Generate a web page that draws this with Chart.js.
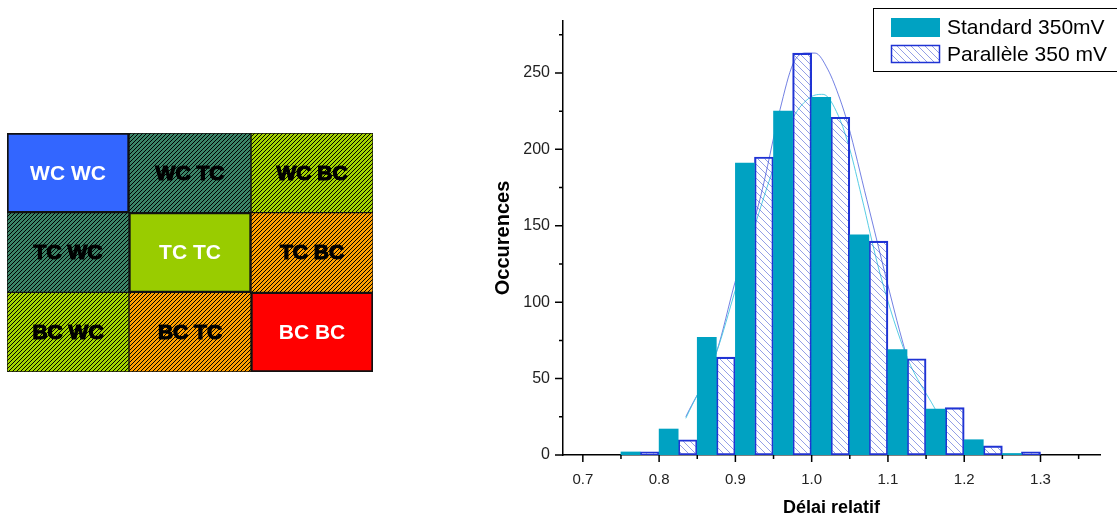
<!DOCTYPE html>
<html lang="fr">
<head>
<meta charset="utf-8">
<title>Occurences – délai relatif</title>
<script src="https://cdn.jsdelivr.net/npm/chart.js@4.4.1/dist/chart.umd.min.js"></script>
<style>
  html, body { margin: 0; padding: 0; background: #fff; }
  body { width: 1117px; height: 520px; position: relative; overflow: hidden; }
  #grid  { position: absolute; left: 7px; top: 133px; }
  #histo { position: absolute; left: 480px; top: 0; }
</style>
</head>
<body>
<canvas id="grid" width="366" height="239"></canvas>
<canvas id="histo" width="637" height="520"></canvas>
<script>
// --- Matrice des combinaisons (lignes x colonnes)
const gridRows = ['WC', 'TC', 'BC'];
const gridCols = ['WC', 'TC', 'BC'];

// --- Histogramme : classes de 0.05, deux séries côte à côte
const binCenters      = [0.775, 0.825, 0.875, 0.925, 0.975, 1.025, 1.075, 1.125, 1.175, 1.225, 1.275];
const standardCounts  = [2, 17, 77, 191, 225, 234, 144, 69, 30, 10, 1];
const paralleleCounts = [2, 10, 64, 195, 263, 221, 140, 63, 31, 6, 2];

// courbes d'ajustement
const fitStdX = [0.835, 0.875, 0.90, 0.928, 0.955, 0.976, 0.998, 1.015, 1.035, 1.05, 1.065, 1.09, 1.125, 1.162];
const fitStdY = [24, 67, 108, 154, 195, 221, 234, 236, 222, 200, 170, 118, 64, 30];
const fitParX = [0.835, 0.875, 0.8995, 0.932, 0.9585, 0.9756, 0.9913, 1.0045, 1.0215, 1.037, 1.0478, 1.0723, 1.1117, 1.1248];
const fitParY = [25, 67, 113, 167, 226, 256, 263, 263, 252, 233, 216, 167, 88, 64];

// graduations
const xMajorTicks = [0.7, 0.8, 0.9, 1.0, 1.1, 1.2, 1.3];
const xMinorTicks = [0.75, 0.85, 0.95, 1.05, 1.15, 1.25, 1.35];
const yMajorTicks = [0, 50, 100, 150, 200, 250];
const yMinorTicks = [25, 75, 125, 175, 225, 275];

const FONT = 'Arial, "Liberation Sans", sans-serif';
Chart.defaults.font.family = FONT;
Chart.defaults.color = '#222';

// ---------- motifs
function stripes(ctx, base) {
  const c = document.createElement('canvas');
  c.width = c.height = 4;
  const g = c.getContext('2d');
  g.fillStyle = base;
  g.fillRect(0, 0, 4, 4);
  g.strokeStyle = '#000';
  g.lineWidth = 1;
  g.beginPath();
  g.moveTo(-1, 5); g.lineTo(5, -1);
  g.moveTo(-1, 1); g.lineTo(1, -1);
  g.moveTo(3, 5); g.lineTo(5, 3);
  g.stroke();
  return ctx.createPattern(c, 'repeat');
}

function backHatch(ctx) {
  const s = 7;
  const c = document.createElement('canvas');
  c.width = c.height = s;
  const g = c.getContext('2d');
  g.strokeStyle = 'rgba(60,80,210,0.55)';
  g.lineWidth = 1;
  g.beginPath();
  g.moveTo(-1, -1); g.lineTo(s + 1, s + 1);
  g.moveTo(-1, s - 1); g.lineTo(1, s + 1);
  g.moveTo(s - 1, -1); g.lineTo(s + 1, 1);
  g.stroke();
  return ctx.createPattern(c, 'repeat');
}

// ---------- matrice
const gridCtx = document.getElementById('grid').getContext('2d');
const darkGreen = stripes(gridCtx, '#3b8467');
const limeHatch = stripes(gridCtx, '#a4d400');
const orangeHatch = stripes(gridCtx, '#ffa000');
const cellFill = {
  'WC WC': '#3366ff', 'TC TC': '#99cc00', 'BC BC': '#ff0000',
  'WC TC': darkGreen, 'TC WC': darkGreen,
  'WC BC': limeHatch, 'BC WC': limeHatch,
  'TC BC': orangeHatch, 'BC TC': orangeHatch
};

const cellLabels = {
  id: 'cellLabels',
  afterDatasetsDraw(chart) {
    const ctx = chart.ctx;
    ctx.save();
    ctx.font = 'bold 21px ' + FONT;
    ctx.textAlign = 'center';
    ctx.textBaseline = 'middle';
    chart.data.datasets.forEach((ds, i) => {
      chart.getDatasetMeta(i).data.forEach((bar, j) => {
        const txt = gridRows[j] + ' ' + gridCols[i];
        const cx = (bar.x + bar.base) / 2;
        const cy = bar.y + 1;
        if (gridRows[j] === gridCols[i]) {
          ctx.fillStyle = '#fff';
        } else {
          ctx.fillStyle = '#000';
          ctx.strokeStyle = '#000';
          ctx.lineWidth = 1.2;
          ctx.strokeText(txt, cx, cy);
        }
        ctx.fillText(txt, cx, cy);
      });
    });
    ctx.restore();
  }
};

new Chart(gridCtx, {
  type: 'bar',
  data: {
    labels: gridRows,
    datasets: gridCols.map(col => ({
      label: col,
      data: gridRows.map(() => 1),
      backgroundColor: gridRows.map(row => cellFill[row + ' ' + col]),
      borderColor: '#111',
      borderWidth: gridRows.map(row => row === col ? 2 : 1),
      borderSkipped: false,
      barPercentage: 1,
      categoryPercentage: 1
    }))
  },
  options: {
    indexAxis: 'y',
    responsive: false,
    animation: false,
    layout: { padding: 0 },
    plugins: { legend: { display: false }, tooltip: { enabled: false } },
    scales: {
      x: { stacked: true, display: false, min: 0, max: gridCols.length },
      y: { stacked: true, display: false }
    }
  },
  plugins: [cellLabels]
});

// ---------- histogramme
const histoCtx = document.getElementById('histo').getContext('2d');
const parHatch = backHatch(histoCtx);

// petites et grandes graduations vers l'extérieur
const tickMarks = {
  id: 'tickMarks',
  afterDraw(chart) {
    const { ctx, scales: { x, y } } = chart;
    ctx.save();
    ctx.strokeStyle = '#000';
    ctx.lineWidth = 1.5;
    ctx.beginPath();
    for (const v of xMajorTicks.concat(xMinorTicks)) {
      const px = x.getPixelForValue(v);
      const len = xMajorTicks.includes(v) ? 7 : 4;
      ctx.moveTo(px, y.bottom); ctx.lineTo(px, y.bottom + len);
    }
    for (const v of yMajorTicks.concat(yMinorTicks)) {
      const py = y.getPixelForValue(v);
      const len = yMajorTicks.includes(v) ? 8 : 4;
      ctx.moveTo(x.left, py); ctx.lineTo(x.left - len, py);
    }
    ctx.stroke();
    ctx.restore();
  }
};

// légende encadrée en haut à droite
const boxLegend = {
  id: 'boxLegend',
  afterDraw(chart) {
    const ctx = chart.ctx;
    const [std, par] = chart.data.datasets;
    ctx.save();
    ctx.fillStyle = '#fff';
    ctx.fillRect(393.5, 8.5, 260, 63);
    ctx.strokeStyle = '#000';
    ctx.lineWidth = 1;
    ctx.strokeRect(393.5, 8.5, 260, 63);

    ctx.fillStyle = std.backgroundColor;
    ctx.fillRect(411, 18, 49, 19);
    ctx.fillStyle = par.backgroundColor;
    ctx.fillRect(411, 45, 49, 18);
    ctx.strokeStyle = par.borderColor;
    ctx.lineWidth = 1.5;
    ctx.strokeRect(411.5, 45.5, 48, 17);

    ctx.fillStyle = '#000';
    ctx.font = '21px ' + FONT;
    ctx.textBaseline = 'middle';
    ctx.fillText(std.label, 467, 28);
    ctx.fillText(par.label, 467, 55);
    ctx.restore();
  }
};

const pts = (xs, ys) => xs.map((x, i) => ({ x, y: ys[i] }));

new Chart(histoCtx, {
  type: 'bar',
  data: {
    datasets: [
      {
        label: 'Standard 350mV',
        data: pts(binCenters, standardCounts),
        backgroundColor: '#00a2c2',
        borderWidth: 0,
        barPercentage: 1, categoryPercentage: 1,
        order: 0
      },
      {
        label: 'Parallèle 350 mV',
        data: pts(binCenters, paralleleCounts),
        backgroundColor: parHatch,
        borderColor: '#1f33d4',
        borderWidth: 1.5,
        borderSkipped: false,
        barPercentage: 1, categoryPercentage: 1,
        order: 0
      },
      {
        type: 'line',
        label: 'Ajustement standard',
        data: pts(fitStdX, fitStdY),
        borderColor: 'rgba(70,200,225,0.9)',
        borderWidth: 1,
        pointRadius: 0,
        cubicInterpolationMode: 'monotone',
        order: 1
      },
      {
        type: 'line',
        label: 'Ajustement parallèle',
        data: pts(fitParX, fitParY),
        borderColor: 'rgba(55,75,215,0.7)',
        borderWidth: 1,
        pointRadius: 0,
        cubicInterpolationMode: 'monotone',
        order: 1
      }
    ]
  },
  options: {
    responsive: false,
    animation: false,
    layout: { padding: { top: 21, right: 17, left: 0, bottom: 0 } },
    plugins: { legend: { display: false }, tooltip: { enabled: false } },
    scales: {
      x: {
        type: 'linear',
        offset: false,
        min: 0.674, max: 1.378,
        grid: { display: false },
        border: { display: true, color: '#000', width: 1.5 },
        afterBuildTicks: s => { s.ticks = xMajorTicks.map(v => ({ value: v })); },
        afterFit: s => { s.height = 65; },
        ticks: {
          autoSkip: false, maxRotation: 0, padding: 8,
          font: { size: 15 }, color: '#222',
          callback: v => Number(v).toFixed(1)
        },
        title: {
          display: true, text: 'Délai relatif',
          font: { size: 18, weight: 'bold' }, color: '#000',
          padding: { top: 0, bottom: 1 }
        }
      },
      y: {
        min: 0, max: 284,
        grid: { display: false },
        border: { display: true, color: '#000', width: 1.5 },
        afterBuildTicks: s => { s.ticks = yMajorTicks.map(v => ({ value: v })); },
        afterFit: s => { s.width = 83; },
        ticks: { autoSkip: false, padding: 5, font: { size: 16 }, color: '#222' },
        title: {
          display: true, text: 'Occurences',
          font: { size: 20, weight: 'bold' }, color: '#000',
          padding: { top: 11, bottom: 0 }
        }
      }
    }
  },
  plugins: [tickMarks, boxLegend]
});
</script>
</body>
</html>
